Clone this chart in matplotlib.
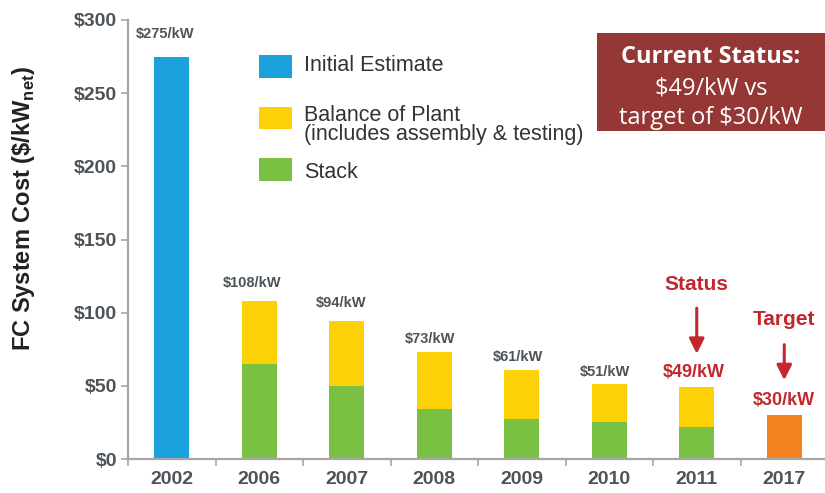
import matplotlib
matplotlib.use('Agg')
import matplotlib.pyplot as plt
import matplotlib.patches as patches
import numpy as np

plt.rcParams['font.family'] = ['Liberation Sans', 'DejaVu Sans']
plt.rcParams['mathtext.fontset'] = 'custom'
plt.rcParams['mathtext.rm'] = 'Liberation Sans Narrow:bold'
plt.rcParams['mathtext.it'] = 'Liberation Sans Narrow:bold'
plt.rcParams['mathtext.bf'] = 'Liberation Sans Narrow:bold'

# data
years = ['2002', '2006', '2007', '2008', '2009', '2010', '2011', '2017']
initial = [275, 0, 0, 0, 0, 0, 0, 0]
stack = [0, 65, 50, 34, 27, 25, 22, 0]
bop = [0, 43, 44, 39, 34, 26, 27, 0]
target = [0, 0, 0, 0, 0, 0, 0, 30]
totals = [275, 108, 94, 73, 61, 51, 49, 30]
labels = ['$275/kW', '$108/kW', '$94/kW', '$73/kW', '$61/kW', '$51/kW', '$49/kW', '$30/kW']
yticks = [0, 50, 100, 150, 200, 250, 300]

# colours
c_blue = '#1BA1DB'
c_yellow = '#FDD108'
c_green = '#7AC143'
c_orange = '#F58220'
c_text = '#4D5459'
c_red = '#C1272D'
c_box = '#953735'
c_axis = '#A6A6A6'

W, H = 825, 493
fig = plt.figure(figsize=(W / 100, H / 100), dpi=100)
ax = fig.add_axes([128 / W, 34 / H, 700 / W, 439 / H])

x = np.arange(len(years))
bw = 0.4
ax.bar(x, initial, bw, color=c_blue)
ax.bar(x, stack, bw, color=c_green)
ax.bar(x, bop, bw, bottom=stack, color=c_yellow)
ax.bar(x, target, bw, color=c_orange)

ax.set_xlim(-0.5, len(years) - 0.5)
ax.set_ylim(0, 300)

for s in ['top', 'right']:
    ax.spines[s].set_visible(False)
for s in ['left', 'bottom']:
    ax.spines[s].set_color(c_axis)
    ax.spines[s].set_linewidth(1.6)

ax.set_yticks(yticks)
ax.set_yticklabels(['$%d' % v for v in yticks])
ax.tick_params(axis='y', length=5, width=1.2, color=c_axis, labelsize=14,
               labelcolor=c_text, pad=3)
for t in ax.get_yticklabels():
    t.set_fontweight('bold')

# x ticks: marks at category boundaries, labels at centres
ax.set_xticks(np.arange(len(years)) - 0.5)
ax.set_xticklabels([])
ax.tick_params(axis='x', which='major', length=5, width=1.2, color=c_axis)
ax.set_xticks(x, minor=True)
ax.set_xticklabels(years, minor=True)
ax.tick_params(axis='x', which='minor', length=0, labelsize=14, labelcolor=c_text, pad=9)
for t in ax.get_xticklabels(minor=True):
    t.set_fontweight('bold')

ax.set_ylabel(r'FC System Cost (\$/kW$_{\mathregular{net}}$)', fontsize=17,
              fontweight='bold', color='#222222',
              family=['Liberation Sans Narrow', 'Liberation Sans'])
ax.yaxis.set_label_coords((37 - 128) / 700, (459 - 208) / 439)

# value labels (slightly left of the bar centre, as in the original slide)
offsets = [(-5, 16.5), (-5, 13), (-4, 13), (-3, 9.4), (-3, 9.4), (-3, 8.6),
           (-2, 10.8), (0, 10.8)]
for i, (tot, lab) in enumerate(zip(totals, labels)):
    red = i >= 6
    ax.annotate(lab, (x[i], tot), xytext=offsets[i], textcoords='offset points',
                ha='center', va='center', fontweight='bold',
                fontsize=13 if red else 10.5, color=c_red if red else c_text)

# status / target arrows
arrow = dict(arrowstyle='-|>,head_length=0.9,head_width=0.45', color=c_red, lw=2.2)
ax.text(6, 119, 'Status', ha='center', va='center', fontsize=15,
        fontweight='bold', color=c_red)
ax.annotate('', xy=(6, 70), xytext=(6, 105), arrowprops=arrow)
ax.text(7, 95, 'Target', ha='center', va='center', fontsize=15,
        fontweight='bold', color=c_red)
ax.annotate('', xy=(7, 52), xytext=(7, 80), arrowprops=arrow)

# legend drawn by hand
def fx(px):
    return px / W

def fy(py):
    return 1 - py / H

legend_items = [
    (c_blue, 55, 78, 'Initial Estimate', 65),
    (c_yellow, 107, 129, 'Balance of Plant\n(includes assembly & testing)', 125),
    (c_green, 158, 181, 'Stack', 173),
]
for col, y0, y1, txt, ty in legend_items:
    fig.patches.append(patches.Rectangle((fx(259), fy(y1)), fx(292) - fx(259),
                                         fy(y0) - fy(y1), transform=fig.transFigure,
                                         facecolor=col, edgecolor='none'))
    fig.text(fx(304), fy(ty), txt, ha='left', va='center', fontsize=15.5,
             color='#333333', linespacing=0.9)

# status box
fig.patches.append(patches.Rectangle((fx(597), fy(131)), fx(825) - fx(597),
                                     fy(33) - fy(131), transform=fig.transFigure,
                                     facecolor=c_box, edgecolor='none'))
fig.text(fx(711), fy(57), 'Current Status:', ha='center', va='center',
         fontsize=17, fontweight='bold', color='white', family='Open Sans')
fig.text(fx(711), fy(88), '$49/kW vs', ha='center', va='center',
         fontsize=17, color='white', family='Open Sans')
fig.text(fx(711), fy(118), 'target of $30/kW', ha='center', va='center',
         fontsize=17, color='white', family='Open Sans')

fig.savefig('out.png', dpi=100)
